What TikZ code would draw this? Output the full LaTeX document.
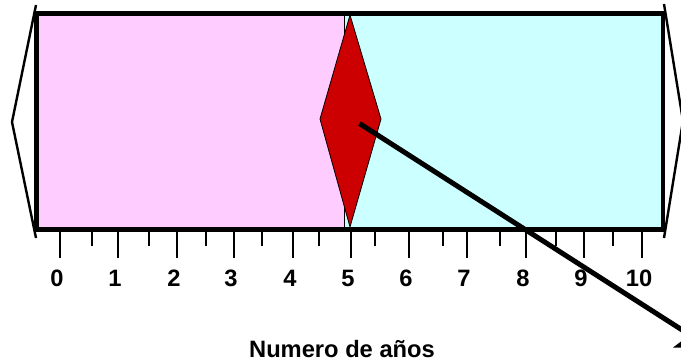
\documentclass[tikz,border=0pt]{standalone}
\usepackage{fontspec}
\setmainfont{Liberation Sans}
\definecolor{pinkfill}{RGB}{255,204,255}
\definecolor{cyanfill}{RGB}{204,255,255}
\definecolor{diamondred}{RGB}{204,0,0}
\begin{document}
\begin{tikzpicture}[x=1pt,y=-1pt,
  framebar/.style={line width=4.8pt,line cap=rect},
  sidetri/.style={line width=2.4pt,line join=miter},
  panel/.style={draw=black,line width=0.6pt},
  majortick/.style={line width=1.6pt},
  minortick/.style={line width=1.6pt},
  lab/.style={font=\fontsize{23.7}{28}\selectfont\bfseries,inner sep=0pt,anchor=base},
  pointer/.style={line width=5pt}]
\path[use as bounding box] (0,0) rectangle (681,361);
\clip (0,0) rectangle (681,361);
% panels
\fill[pinkfill] (38,15) rectangle (344,228);
\draw[panel] (38,15) rectangle (344,228);
\fill[cyanfill] (344,15) rectangle (663,228);
\draw[panel] (344,15) rectangle (663,228);
% side triangles
\coordinate (lt) at (36,5);
\coordinate (la) at (12,122);
\coordinate (lb) at (36,238);
\draw[sidetri] (lt) -- (la) -- (lb);
\coordinate (rt) at (664,4);
\coordinate (ra) at (683,121);
\coordinate (rb) at (664,238);
\draw[sidetri] (rt) -- (ra) -- (rb);
% frame
\coordinate (ftl) at (36.5,13);
\coordinate (ftr) at (663,13);
\coordinate (fbl) at (36.5,229.5);
\coordinate (fbr) at (663,229.5);
\draw[framebar] (ftl) -- (ftr);
\draw[framebar] (fbl) -- (fbr);
\draw[framebar] (ftl) -- (fbl);
\draw[framebar] (ftr) -- (fbr);
% diamond
\coordinate (dt) at (350,15);
\coordinate (dl) at (320,119);
\coordinate (dr) at (381,119);
\coordinate (db) at (350,227);
\filldraw[fill=diamondred,draw=black,line width=0.8pt] (dt) -- (dr) -- (db) -- (dl) -- cycle;
% pointer
\coordinate (ps) at (359.5,123.5);
\coordinate (pe) at (690,335);
\draw[pointer] (ps) -- (pe);
\fill (673,347.5) -- (681,341.5) -- (681,347.5) -- cycle;
% ticks
\foreach \x in {60,118,177,234,293,351,409,467,526,584,642}
  \draw[majortick] (\x,231) -- (\x,258);
\foreach \x in {92,149,206,262,319,375,443,500,556,613}
  \draw[minortick] (\x,231) -- (\x,246);
% labels
\foreach \k/\x in {0/60,1/118,2/177,3/234,4/293,5/351,6/409,7/467,8/526,9/584,10/642}
  \node[lab] (n\k) at (\x-3,286) {\k};
\node[lab] (title) at (342,357.5) {Numero de años};
\end{tikzpicture}
\end{document}
